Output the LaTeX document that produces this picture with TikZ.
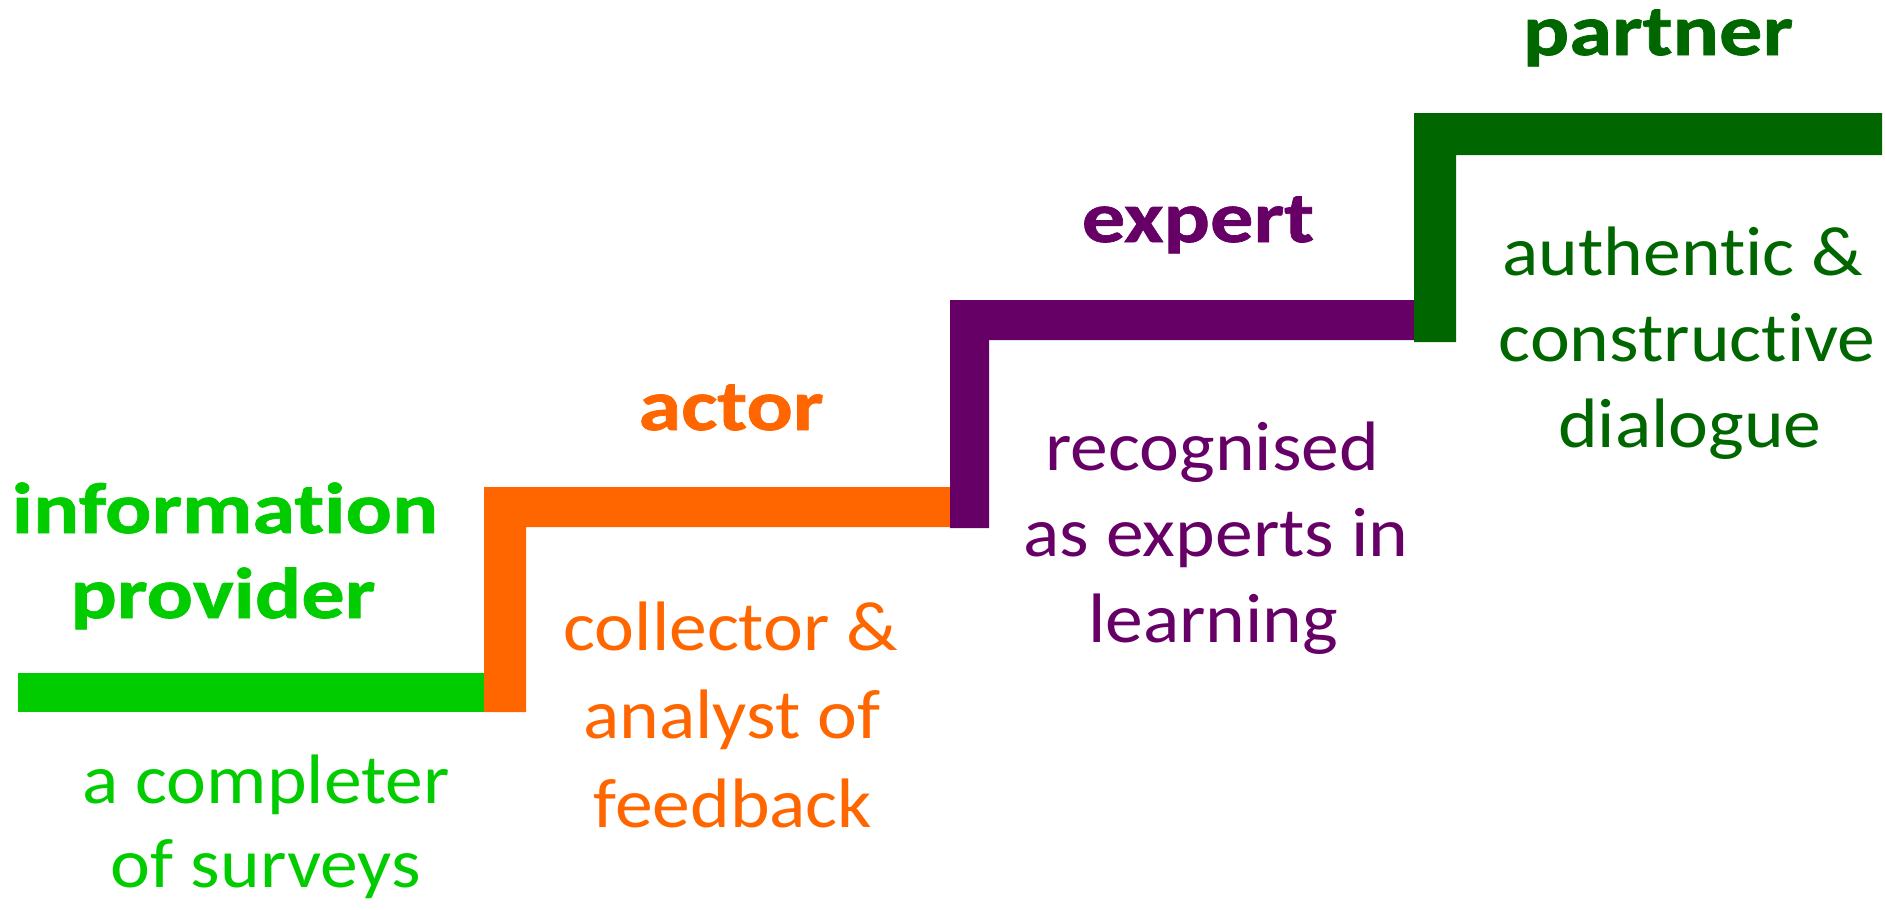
\documentclass[tikz,border=0pt]{standalone}
\usepackage{fontspec}
\setmainfont{Carlito}[Ligatures=NoCommon]
\newfontfamily\regfont{Carlito}[Ligatures=NoCommon, FakeStretch=1.08]
\newfontfamily\ttlfont{Carlito Bold}[Ligatures=NoCommon, FakeStretch=1.2, FakeBold=1]
\definecolor{cgreen}{HTML}{00CC00}
\definecolor{corange}{HTML}{FF6600}
\definecolor{cpurple}{HTML}{660066}
\definecolor{cdgreen}{HTML}{006600}
\tikzset{
  lab/.style={anchor=base, inner sep=0pt, font=\regfont\fontsize{70}{84}\selectfont},
  ttl/.style={anchor=base, inner sep=0pt, font=\ttlfont\fontsize{72}{86}\selectfont},
}
\begin{document}
\begin{tikzpicture}[x=1pt,y=-1pt]
\useasboundingbox (0,0) rectangle (1885,910);
% steps
\fill[cgreen] (18,673) rectangle (486,712);
\fill[corange] (484,712) -- (484,487) -- (952,487) -- (952,527) -- (526,527) -- (526,712) -- cycle;
\fill[cpurple] (950,528) -- (950,300) -- (1416,300) -- (1416,340) -- (989,340) -- (989,528) -- cycle;
\fill[cdgreen] (1414,342) -- (1414,113) -- (1882,113) -- (1882,155) -- (1456,155) -- (1456,342) -- cycle;
% green
\node[ttl, text=cgreen] (info1) at (225,533) {information};
\node[ttl, text=cgreen] (info2) at (223,618) {provider};
\node[lab, text=cgreen] (comp1) at (266,803) {a completer};
\node[lab, text=cgreen] (comp2) at (266,887) {of surveys};
% orange
\node[ttl, text=corange] (actor) at (731,430) {actor};
\node[lab, text=corange] (coll1) at (731,650) {collector \&};
\node[lab, text=corange] (coll2) at (732,738) {analyst of};
\node[lab, text=corange] (coll3) at (733,827) {feedback};
% purple
\node[ttl, text=cpurple] (expert) at (1198,242) {expert};
\node[lab, text=cpurple] (rec1) at (1212,470) {recognised};
\node[lab, text=cpurple] (rec2) at (1216,556) {as experts in};
\node[lab, text=cpurple] (rec3) at (1213,642) {learning};
% dark green
\node[ttl, text=cdgreen] (partner) at (1658,55) {partner};
\node[lab, text=cdgreen] (auth1) at (1683,275) {authentic \&};
\node[lab, text=cdgreen] (auth2) at (1687,361) {constructive};
\node[lab, text=cdgreen] (auth3) at (1690,447) {dialogue};
\end{tikzpicture}
\end{document}
